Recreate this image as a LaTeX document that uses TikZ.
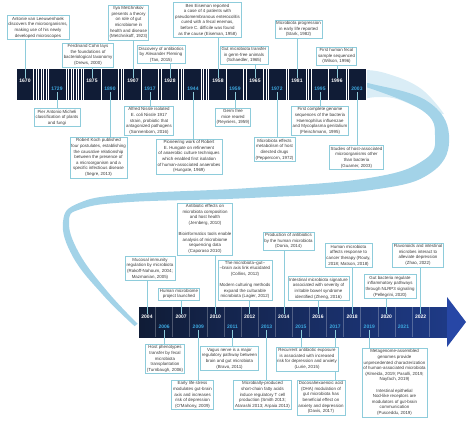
\documentclass[tikz,border=0pt]{standalone}
\usepackage{fontspec}
\setmainfont{Liberation Sans}
\usepackage{xcolor}
\usetikzlibrary{backgrounds}
\definecolor{granat}{HTML}{101C36}
\definecolor{granatjasny}{HTML}{1E3A86}
\definecolor{grot}{HTML}{2747A6}
\definecolor{turkus}{HTML}{8ECCDB}
\definecolor{wstega}{HTML}{A3D3E8}
\definecolor{niebieski}{HTML}{3DA8E0}
\definecolor{tekst}{HTML}{3A3A3A}
\tikzset{
  notka/.style   = {draw=turkus, line width=0.5pt, fill=white, align=center, text=tekst,
                    font=\fontsize{4.4}{5.6}\selectfont, inner sep=1.4pt},
  rokgora/.style = {font=\fontsize{5}{6}\selectfont\bfseries, text=white, inner sep=0.8pt},
  rokdol/.style  = {rokgora, text=niebieski},
  kreska/.style  = {draw=turkus, line width=0.6pt},
}

\begin{document}
\begin{tikzpicture}[x=1pt, y=-1pt]
  \useasboundingbox (0,0) rectangle (467,421);

  % opisy nad gorna osia
  \node[notka] (leeuw) at (38,27.5) {Antonie van Leeuwenhoek\\discovers the microorganisms,\\making use of his newly\\developed microscopes};
  \node[notka] (cohn) at (88,55) {Ferdinand Cohn lays\\the foundations of\\bacteriological taxonomy\\(Drews, 2000)};
  \node[notka] (metch) at (128.5,22.5) {Ilya Metchnikov\\presents a theory\\on role of gut\\microbiome in\\health and disease\\(Metchnikoff, 1923)};
  \node[notka] (fleming) at (161,54.5) {Discovery of antibiotics\\by Alexander Fleming\\(Tan, 2015)};
  \node[notka] (eiseman) at (207.5,20) {Ben Eiseman reported\\a case of 4 patients with\\pseudomembranous enterocolitis\\cured with a fecal enemas,\\before C. difficile was found\\as the cause (Eiseman, 1958)};
  \node[notka] (schaedler) at (244,55) {Gut microbiota transfer\\in germ-free animals\\(Schaedler, 1965)};
  \node[notka] (stark) at (298.5,29) {Microbiota progression\\in early life reported\\(Stark, 1982)};
  \node[notka] (wilson) at (336.5,56) {First human fecal\\sample sequenced\\(Wilson, 1996)};

  % opisy pod gorna osia
  \node[notka] (micheli) at (57,117.5) {Pier Antonio Micheli\\classification of plants\\and fungi};
  \node[notka] (koch) at (98.5,157.5) {Robert Koch published\\four postulates, establishing\\the causative relationship\\between the presence of\\a microorganism and a\\specific infectious disease\\(Segre, 2013)};
  \node[notka] (nissle) at (149,121) {Alfred Nissle isolated\\E. coli Nissle 1917\\strain, probiotic that\\antagonized pathogens\\(Sonnenborn, 2016)};
  \node[notka] (hungate) at (189,156.5) {Pioneering work of Robert\\E. Hungate on refinement\\of anaerobic culture techniques\\which enabled first isolation\\of human-associated anaerobes\\(Hungate, 1969)};
  \node[notka] (reyniers) at (233,117) {Germ free\\mice reared\\(Reyniers, 1959)};
  \node[notka] (pepper) at (274.5,149.5) {Microbiota effects\\metabolism of host\\directed drugs\\(Peppercorn, 1972)};
  \node[notka] (fleisch) at (320,121) {First complete genome\\sequences of the bacteria\\Haemophilus influenzae\\and Mycoplasma genitalium\\(Fleischmann, 1995)};
  \node[notka] (guarner) at (356.5,157.5) {Studies of host-associated\\microorganisms other\\than bacteria\\(Guarner, 2003)};

  % opisy nad dolna osia
  \node[notka] (mucosal) at (150,268.5) {Mucosal immunity\\regulation by microbiota\\(Rakoff-Nahoum, 2004;\\Mazmanian, 2005)};
  \node[notka] (hmp) at (179,294) {Human microbiome\\project launched};
  \node[notka] (jernberg) at (205,229) {Antibiotic effects on\\microbiota composition\\and host health\\(Jernberg, 2010)\\[5.6pt]Bioinformatics tools enable\\analysis of microbiome\\sequencing data\\(Caporaso 2010)};
  \node[notka] (collins) at (245,280) {The microbiota--gut--\\--brain axis link elucidated\\(Collins, 2012)\\[5.6pt]Modern culturing methods\\expand the culturable\\microbiota (Lagier, 2012)};
  \node[notka] (donia) at (288.5,241) {Production of antibiotics\\by the human microbiota\\(Donia, 2014)};
  \node[notka] (zheng) at (318.5,288.5) {Intestinal microbiota signature\\associated with severity of\\irritable bowel syndrome\\identified (Zheng, 2016)};
  \node[notka] (routy) at (348.5,255.5) {Human microbiota\\affects response to\\cancer therapy (Routy,\\2018; Matson, 2018)};
  \node[notka] (pellegrini) at (390,286.5) {Gut bacteria regulate\\inflammatory pathways\\through NLRP3 signaling\\(Pellegrini, 2020)};
  \node[notka] (zhao) at (418,255) {Flavonoids and intestinal\\microbes interact to\\alleviate depression\\(Zhao, 2022)};

  % opisy pod dolna osia
  \node[notka] (turnbaugh) at (165,359) {Host phenotypes\\transfer by fecal\\microbiota\\transplantation\\(Turnbaugh, 2006)};
  \node[notka] (bravo) at (229.5,358.5) {Vagus nerve is a major\\regulatory pathway between\\brain and gut microbiota\\(Bravo, 2011)};
  \node[notka] (omahony) at (192.5,395) {Early life stress\\modulates gut-brain\\axis and increases\\risk of depression\\(O'Mahony, 2009)};
  \node[notka] (smith) at (262.5,395) {Microbially-produced\\short-chain fatty acids\\induce regulatory T cell\\production (Smith 2013;\\Atarashi 2013; Arpaia 2013)};
  \node[notka] (lurie) at (307,359) {Recurrent antibiotic exposure\\is associated with increased\\risk for depression and anxiety\\(Lurie, 2015)};
  \node[notka] (davis) at (321,397.5) {Docosahexaenoic acid\\(DHA) modulation of\\gut microbiota has\\beneficial effect on\\anxiety and depression\\(Davis, 2017)};
  \node[notka] (almeida) at (394.5,382.5) {Metagenome-assembled\\genomes provide\\unprecedented characterization\\of human-associated microbiota\\(Almeida, 2019; Pasolli, 2019;\\Nayfach, 2019)\\[5.6pt]Intestinal epithelial\\Nod-like receptors are\\modulators of gut-brain\\communication\\(Pusceddu, 2019)};

  \begin{pgfonlayer}{background}
    % wstega laczaca osie
    \fill[wstega, opacity=0.4] plot[smooth, tension=0.7] coordinates {(362,70) (385,73) (420,88) (444,114)}
      -- plot[smooth, tension=0.7] coordinates {(430,114) (400,100) (380,97) (362,99)} -- cycle;
    \fill[wstega] plot[smooth, tension=0.7] coordinates {(362,84) (372,84) (427,101) (449,135) (432,172) (371,190) (250,198) (130,202) (81,209) (69,222) (79,253) (107,291) (137.6,323.8)}
      -- plot[smooth, tension=0.7] coordinates {(134.6,326.2) (103,295) (73,257) (63,222) (79,203) (130,194) (250,188) (369,178) (424,160) (435,135) (423,111) (372,89) (362,89)} -- cycle;

    % gorna os
    \fill[granat] (17,69) rectangle (367,100);
    \foreach \s in {18.5,21,...,366}
      \draw[white, line width=0.8pt] (\s,69) -- (\s,100);
    \foreach \rok/\x in {1670/25, 1875/92, 1907/133, 1928/170, 1958/218, 1965/255, 1981/297, 1996/337} {
      \fill[granat] (\x-7,69) rectangle (\x+7,100);
      \node[rokgora] (r\rok) at (\x,80.5) {\rok};
    }
    \foreach \rok/\x in {1729/57, 1890/110, 1917/150, 1944/193, 1959/235, 1972/277, 1995/320, 2003/357} {
      \fill[granat] (\x-7,69) rectangle (\x+7,100);
      \node[rokdol] (r\rok) at (\x,89) {\rok};
    }

    % dolna os
    \shade[left color=granat, right color=granatjasny] (139,307) rectangle (447,337);
    \fill[grot] (447,297) -- (466,322) -- (447,347) -- cycle;
    \foreach \i in {0,...,16}
      \draw[white, opacity=0.25, line width=0.6pt] (147+17.1*\i+8.55,307) -- (147+17.1*\i+8.55,337);
    \foreach \rok/\i in {2004/0, 2007/2, 2010/4, 2012/6, 2014/8, 2016/10, 2018/12, 2020/14, 2022/16}
      \node[rokgora] (r\rok) at (147+17.1*\i,317) {\rok};
    \foreach \rok/\i in {2006/1, 2009/3, 2011/5, 2013/7, 2015/9, 2017/11, 2019/13, 2021/15}
      \node[rokdol] (r\rok) at (147+17.1*\i,327) {\rok};

    % kreski od lat do opisow
    \draw[kreska] (r1670.north) -- (r1670.north |- leeuw.south);
    \draw[kreska] (r1875.north) -- (r1875.north |- cohn.south);
    \draw[kreska] (r1907.north) -- (r1907.north |- metch.south);
    \draw[kreska] (r1928.north) -- (r1928.north |- fleming.south);
    \draw[kreska] (r1958.north) -- (r1958.north |- eiseman.south);
    \draw[kreska] (r1965.north) -- (r1965.north |- schaedler.south);
    \draw[kreska] (r1981.north) -- (r1981.north |- stark.south);
    \draw[kreska] (r1996.north) -- (r1996.north |- wilson.south);
    \draw[kreska] (r1729.south) -- (r1729.south |- micheli.north);
    \draw[kreska] (r1890.south) -- (r1890.south |- koch.north);
    \draw[kreska] (r1917.south) -- (r1917.south |- nissle.north);
    \draw[kreska] (r1944.south) -- (r1944.south |- hungate.north);
    \draw[kreska] (r1959.south) -- (r1959.south |- reyniers.north);
    \draw[kreska] (r1972.south) -- (r1972.south |- pepper.north);
    \draw[kreska] (r1995.south) -- (r1995.south |- fleisch.north);
    \draw[kreska] (r2003.south) -- (r2003.south |- guarner.north);
    \draw[kreska] (r2004.north) -- (r2004.north |- mucosal.south);
    \draw[kreska] (r2007.north) -- (r2007.north |- hmp.south);
    \draw[kreska] (r2010.north) -- (r2010.north |- jernberg.south);
    \draw[kreska] (r2012.north) -- (r2012.north |- collins.south);
    \draw[kreska] (r2014.north) -- (r2014.north |- donia.south);
    \draw[kreska] (r2016.north) -- (r2016.north |- zheng.south);
    \draw[kreska] (r2018.north) -- (r2018.north |- routy.south);
    \draw[kreska] (r2020.north) -- (r2020.north |- pellegrini.south);
    \draw[kreska] (r2022.north) -- (r2022.north |- zhao.south);
    \draw[kreska] (r2006.south) -- (r2006.south |- turnbaugh.north);
    \draw[kreska] (r2009.south) -- (r2009.south |- omahony.north);
    \draw[kreska] (r2011.south) -- (r2011.south |- bravo.north);
    \draw[kreska] (r2013.south) -- (r2013.south |- smith.north);
    \draw[kreska] (r2015.south) -- (r2015.south |- lurie.north);
    \draw[kreska] (r2017.south) -- (r2017.south |- davis.north);
    \draw[kreska] (r2019.south) -- (r2019.south |- almeida.north);
  \end{pgfonlayer}
\end{tikzpicture}
\end{document}
